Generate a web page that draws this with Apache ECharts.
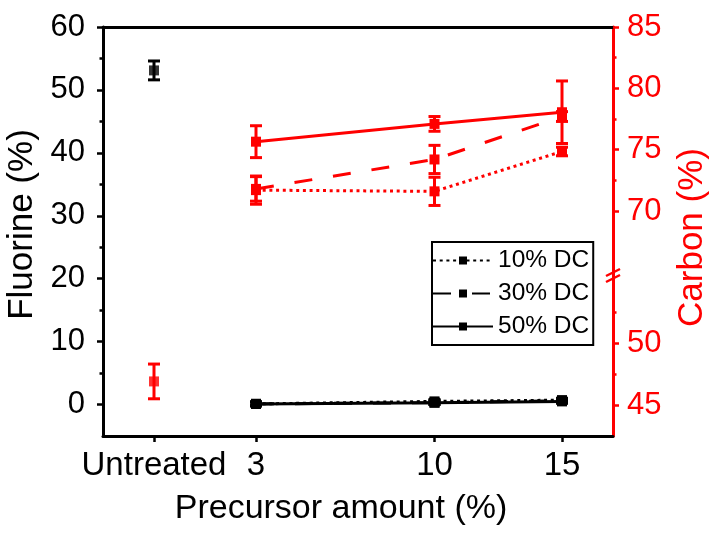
<!DOCTYPE html>
<html>
<head>
<meta charset="utf-8">
<script src="https://cdn.jsdelivr.net/npm/echarts@6/dist/echarts.min.js"></script>
<style>html,body{margin:0;padding:0;background:#fff}#c{width:715px;height:538px}</style>
</head>
<body>
<div id="c"></div>
<script>
// ---------- data ----------
const xTickValues = [-1, 3, 10, 15];
const xTickLabels = ['Untreated', '3', '10', '15'];
const untreatedX = -1;
const amounts = [3, 10, 15];
const seriesNames = ['10% DC', '30% DC', '50% DC'];

const fluorineUntreated = 53.1;
const fluorineUntreatedErr = 1.5;
const fluorine10 = [0.1, 0.5, 0.7];
const fluorine10Err = [0.3, 0.3, 0.3];
const fluorine30 = [0.1, 0.3, 0.6];
const fluorine30Err = [0.3, 0.3, 0.3];
const fluorine50 = [0.1, 0.3, 0.5];
const fluorine50Err = [0.3, 0.3, 0.3];

const carbonUntreated = 46.9;
const carbonUntreatedErr = 1.4;
const carbon10 = [71.7, 71.6, 74.85];
const carbon10Err = [1.15, 1.15, 0.35];
const carbon30 = [71.8, 74.2, 77.7];
const carbon30Err = [1.0, 1.15, 0.4];
const carbon50 = [75.65, 77.1, 78.05];
const carbon50Err = [1.3, 0.6, 2.55];

const fluorineTicks = [0, 10, 20, 30, 40, 50, 60];
const fluorineMinorTicks = [5, 15, 25, 35, 45, 55];
const carbonUpperTicks = [70, 75, 80, 85];
const carbonUpperMinorTicks = [72.5, 77.5, 82.5];
const carbonLowerTicks = [45, 50];
const carbonLowerMinorTicks = [47.5, 52.5];

// ---------- layout / style ----------
const FONT = 'Liberation Sans, Arial, sans-serif';
const RED = '#ff0000';
const BLACK = '#000000';
const G = { left: 103, top: 27, right: 613, bottom: 436, brk: 275 };
const X_MIN = -3, X_MAX = 17;
const lineTypes = [[3, 3.7], [18, 21], 'solid'];

const chart = echarts.init(document.getElementById('c'), null, { renderer: 'canvas' });

function pairs(xs, ys) { return xs.map((x, i) => [x, ys[i]]); }

function errorBars(name, xs, ys, errs, color, xi, yi) {
  return {
    type: 'custom', name: name, xAxisIndex: xi, yAxisIndex: yi, silent: true, z: 3,
    data: xs.map((x, i) => [x, ys[i], errs[i]]),
    encode: { x: 0, y: 1 },
    renderItem: function (params, api) {
      const x = api.value(0), y = api.value(1), e = api.value(2);
      const hi = api.coord([x, y + e]);
      const lo = api.coord([x, y - e]);
      const hw = 6;
      const style = { stroke: color, lineWidth: 3 };
      return { type: 'group', children: [
        { type: 'line', shape: { x1: hi[0], y1: hi[1], x2: lo[0], y2: lo[1] }, style: style },
        { type: 'line', shape: { x1: hi[0] - hw, y1: hi[1], x2: hi[0] + hw, y2: hi[1] }, style: style },
        { type: 'line', shape: { x1: lo[0] - hw, y1: lo[1], x2: lo[0] + hw, y2: lo[1] }, style: style }
      ]};
    }
  };
}

function lineSeries(name, ys, color, dash, xi, yi) {
  return {
    type: 'line', name: name, xAxisIndex: xi, yAxisIndex: yi, z: 4,
    data: pairs(amounts, ys),
    symbol: 'rect', symbolSize: 10, showSymbol: true,
    itemStyle: { color: color },
    lineStyle: { color: color, width: 3, type: dash, cap: 'butt' },
    emphasis: { disabled: true }, animation: false
  };
}

function pointSeries(name, x, y, color, xi, yi) {
  return {
    type: 'scatter', name: name, xAxisIndex: xi, yAxisIndex: yi, z: 4,
    data: [[x, y]], symbol: 'rect', symbolSize: 10,
    itemStyle: { color: color }, animation: false
  };
}

const gridBox = (top, bottom) => ({
  left: G.left, top: top, width: G.right - G.left, height: bottom - top,
  containLabel: false, outerBoundsMode: 'none'
});

function hiddenX(gi) {
  return { type: 'value', gridIndex: gi, min: X_MIN, max: X_MAX, show: false };
}

function tickAxis(gi, pos, min, max, values, color, margin, opts) {
  return Object.assign({
    type: 'value', gridIndex: gi, position: pos, min: min, max: max,
    splitLine: { show: false },
    axisLine: { show: true, onZero: false, lineStyle: { color: color, width: 3 } },
    axisTick: { show: true, inside: false, length: 6, customValues: values, lineStyle: { color: color, width: 2.5 } },
    axisLabel: { show: true, customValues: values, color: color, fontSize: 31, fontFamily: FONT, margin: margin }
  }, opts || {});
}

function minorAxis(gi, pos, min, max, values, color) {
  return {
    type: 'value', gridIndex: gi, position: pos, min: min, max: max,
    splitLine: { show: false },
    axisLine: { show: false, onZero: false },
    axisTick: { show: true, inside: false, length: 3.5, customValues: values, lineStyle: { color: color, width: 2.5 } },
    axisLabel: { show: false }
  };
}

const UP_MIN = 64.78, UP_MAX = 85;
const LO_MIN = 42.5, LO_MAX = 55.48;

const option = {
  backgroundColor: '#fff',
  animation: false,
  grid: [
    gridBox(G.top, G.bottom),
    gridBox(G.top, G.brk),
    gridBox(G.brk, G.bottom)
  ],
  legend: {
    data: seriesNames, orient: 'vertical', left: 432, top: 242,
    padding: [6, 4, 6, 0], itemWidth: 60, itemHeight: 10, itemGap: 8, itemTextGap: 8,
    textStyle: { fontSize: 24.5, fontFamily: FONT, color: BLACK },
    borderColor: BLACK, borderWidth: 2, backgroundColor: '#fff'
  },
  xAxis: [
    {
      type: 'value', gridIndex: 0, position: 'bottom', min: X_MIN, max: X_MAX,
      splitLine: { show: false },
      axisLine: { show: true, onZero: false, lineStyle: { color: BLACK, width: 3 } },
      axisTick: { show: true, length: 6, customValues: xTickValues, lineStyle: { color: BLACK, width: 2.5 } },
      axisLabel: {
        customValues: xTickValues, fontSize: 33, fontFamily: FONT, color: BLACK, margin: 13,
        formatter: v => xTickLabels[xTickValues.indexOf(v)]
      },
      name: 'Precursor amount (%)', nameLocation: 'middle', nameGap: 56,
      nameTextStyle: { fontSize: 34, fontFamily: FONT, color: BLACK, padding: [0, 34, 0, 0] }
    },
    {
      type: 'value', gridIndex: 0, position: 'top', min: X_MIN, max: X_MAX,
      splitLine: { show: false },
      axisLine: { show: true, onZero: false, lineStyle: { color: BLACK, width: 3 } },
      axisTick: { show: false }, axisLabel: { show: false }
    },
    hiddenX(1),
    hiddenX(2)
  ],
  yAxis: [
    tickAxis(0, 'left', -5, 60, fluorineTicks, BLACK, 18, {
      name: 'Fluorine (%)', nameLocation: 'middle', nameGap: 60, nameRotate: 90,
      nameTextStyle: { fontSize: 35, fontFamily: FONT, color: BLACK, padding: [0, 0, 0, 14] }
    }),
    minorAxis(0, 'left', -5, 60, fluorineMinorTicks, BLACK),
    {
      type: 'value', gridIndex: 0, position: 'right', min: 0, max: 1,
      splitLine: { show: false }, axisLine: { show: false, onZero: false }, axisTick: { show: false }, axisLabel: { show: false },
      name: 'Carbon (%)', nameLocation: 'middle', nameGap: 62, nameRotate: 90,
      nameTextStyle: { fontSize: 35, fontFamily: FONT, color: RED, padding: [0, 12, 0, 0] }
    },
    tickAxis(1, 'right', UP_MIN, UP_MAX, carbonUpperTicks, RED, 14, {}),
    minorAxis(1, 'right', UP_MIN, UP_MAX, carbonUpperMinorTicks, RED),
    tickAxis(2, 'right', LO_MIN, LO_MAX, carbonLowerTicks, RED, 14, {}),
    minorAxis(2, 'right', LO_MIN, LO_MAX, carbonLowerMinorTicks, RED)
  ],
  graphic: [
    { type: 'line', z: 100, shape: { x1: G.right - 7, y1: G.brk + 1, x2: G.right + 7, y2: G.brk - 6 }, style: { stroke: RED, lineWidth: 2.5 } },
    { type: 'line', z: 100, shape: { x1: G.right - 7, y1: G.brk + 7, x2: G.right + 7, y2: G.brk }, style: { stroke: RED, lineWidth: 2.5 } }
  ],
  series: [
    lineSeries(seriesNames[0], fluorine10, BLACK, lineTypes[0], 0, 0),
    lineSeries(seriesNames[1], fluorine30, BLACK, lineTypes[1], 0, 0),
    lineSeries(seriesNames[2], fluorine50, BLACK, lineTypes[2], 0, 0),
    lineSeries(seriesNames[0], carbon10, RED, lineTypes[0], 2, 3),
    lineSeries(seriesNames[1], carbon30, RED, lineTypes[1], 2, 3),
    lineSeries(seriesNames[2], carbon50, RED, lineTypes[2], 2, 3),
    pointSeries('Fluorine untreated', untreatedX, fluorineUntreated, BLACK, 0, 0),
    pointSeries('Carbon untreated', untreatedX, carbonUntreated, RED, 3, 5),
    errorBars('F10 err', amounts, fluorine10, fluorine10Err, BLACK, 0, 0),
    errorBars('F30 err', amounts, fluorine30, fluorine30Err, BLACK, 0, 0),
    errorBars('F50 err', amounts, fluorine50, fluorine50Err, BLACK, 0, 0),
    errorBars('C10 err', amounts, carbon10, carbon10Err, RED, 2, 3),
    errorBars('C30 err', amounts, carbon30, carbon30Err, RED, 2, 3),
    errorBars('C50 err', amounts, carbon50, carbon50Err, RED, 2, 3),
    errorBars('F untreated err', [untreatedX], [fluorineUntreated], [fluorineUntreatedErr], BLACK, 0, 0),
    errorBars('C untreated err', [untreatedX], [carbonUntreated], [carbonUntreatedErr], RED, 3, 5)
  ]
};

chart.setOption(option);
</script>
</body>
</html>
